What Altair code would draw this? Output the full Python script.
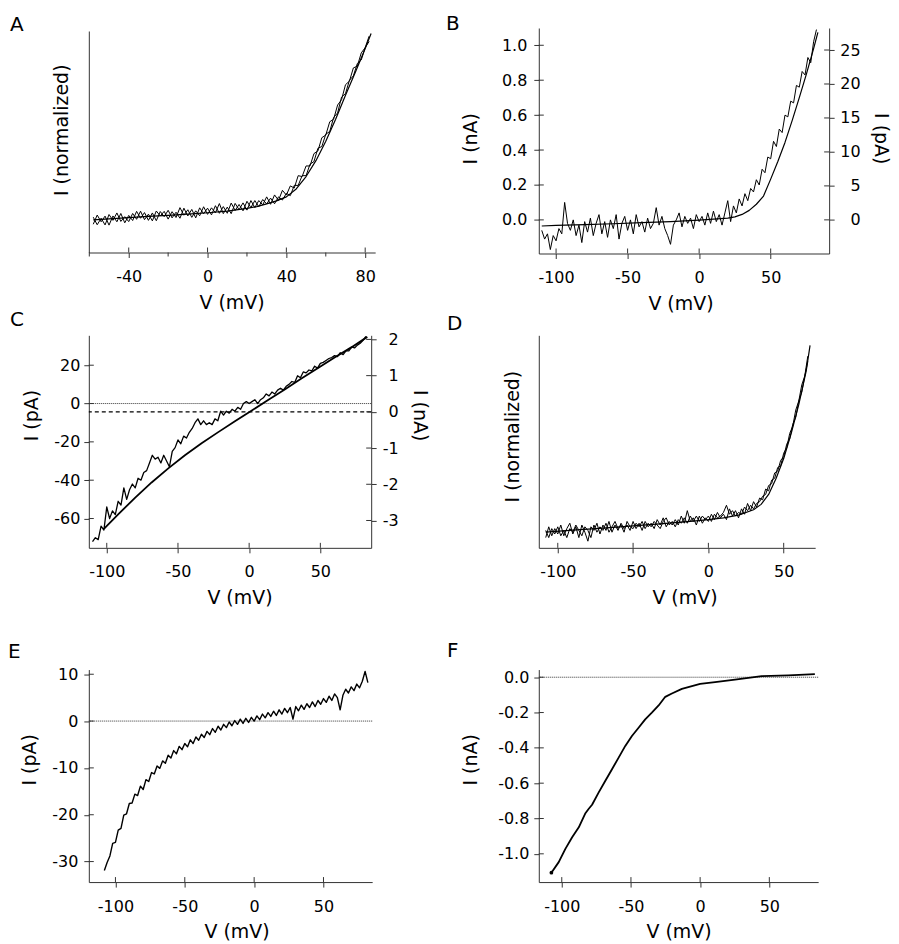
import pandas as pd
import altair as alt

FONT = 'DejaVu Sans'
INK = '#333333'

# ---------------- values ----------------
A_V = [-58, -56, -54, -52, -50, -48, -46, -44, -42, -40,
       -38, -36, -34, -32, -30, -28, -26, -24, -22, -20,
       -18, -16, -14, -12, -10, -8, -6, -4, -2, 0,
       2, 4, 6, 8, 10, 12, 14, 16, 18, 20,
       22, 24, 26, 28, 30, 32, 34, 36, 38, 40,
       42, 44, 46, 48, 50, 52, 54, 56, 58, 60,
       62, 64, 66, 68, 70, 72, 74, 76, 78, 80,
       82]
A_I1 = [-0.02, -0.063, -0.026, -0.064, -0.005, -0.038, 0.004, -0.044, -0.017, -0.045,
        0.001, -0.032, 0.014, -0.034, -0.003, -0.041, 0.015, -0.013, 0.013, -0.031,
        0.011, -0.022, 0.034, -0.009, 0.022, -0.021, 0.016, -0.012, 0.039, -0.004,
        0.033, 0.005, 0.057, 0.0, 0.037, 0.0, 0.058, 0.022, 0.061, 0.02,
        0.074, 0.034, 0.074, 0.05, 0.095, 0.053, 0.106, 0.075, 0.132, 0.105,
        0.157, 0.145, 0.215, 0.21, 0.27, 0.27, 0.34, 0.355, 0.43, 0.445,
        0.52, 0.535, 0.615, 0.645, 0.73, 0.75, 0.825, 0.835, 0.91, 0.94,
        1.005]
A_I2 = [-0.06, -0.008, -0.046, -0.014, -0.065, -0.013, -0.046, 0.001, -0.052, -0.01,
        -0.039, 0.013, -0.026, 0.006, -0.038, 0.004, -0.04, 0.012, -0.017, 0.019,
        -0.024, 0.008, -0.026, 0.031, -0.013, 0.024, -0.024, 0.033, -0.001, 0.031,
        -0.007, 0.045, 0.002, 0.04, 0.002, 0.06, 0.018, 0.052, 0.016, 0.07,
        0.034, 0.074, 0.039, 0.08, 0.055, 0.088, 0.056, 0.095, 0.077, 0.115,
        0.102, 0.16, 0.16, 0.215, 0.215, 0.28, 0.295, 0.37, 0.38, 0.45,
        0.465, 0.545, 0.57, 0.66, 0.68, 0.755, 0.78, 0.85, 0.87, 0.94,
        0.975]
A_FIT_V = [-58, -50, -40, -30, -20, -10, 0, 10, 20, 25, 30, 35, 40, 45, 50, 55, 60, 65, 70, 75, 80, 83]
A_FIT_I = [-0.035, -0.03, -0.022, -0.016, -0.01, -0.003, 0.005, 0.014, 0.03, 0.04, 0.055,
           0.072, 0.095, 0.14, 0.21, 0.3, 0.41, 0.535, 0.67, 0.8, 0.935, 1.02]
A_XTICKS = [-40, 0, 40, 80]
A_XMINOR = [-60, -20, 20, 60]

B_V = [-110, -108, -106, -104, -102, -100, -98, -96, -94, -92,
       -90, -88, -86, -84, -82, -80, -78, -76, -74, -72,
       -70, -68, -66, -64, -62, -60, -58, -56, -54, -52,
       -50, -48, -46, -44, -42, -40, -38, -36, -34, -32,
       -30, -28, -26, -24, -22, -20, -18, -16, -14, -12,
       -10, -8, -6, -4, -2, 0, 2, 4, 6, 8,
       10, 12, 14, 16, 18, 20, 22, 24, 26, 28,
       30, 32, 34, 36, 38, 40, 42, 44, 46, 48,
       50, 52, 54, 56, 58, 60, 62, 64, 66, 68,
       70, 72, 74, 76, 78, 80, 82]
B_I = [-0.06, -0.11, -0.08, -0.17, -0.09, -0.12, -0.05, -0.08, 0.1, -0.02,
       -0.06, 0.0, -0.09, -0.03, -0.13, -0.01, -0.07, 0.01, -0.09, -0.02,
       0.03, -0.08, -0.01, -0.1, 0.0, -0.05, 0.03, -0.11, -0.02, 0.02,
       -0.06, 0.0, -0.08, 0.03, -0.04, -0.01, -0.07, 0.01, -0.05, -0.02,
       0.07, -0.03, 0.02, -0.05, -0.09, -0.14, -0.03, 0.0, 0.04, -0.04,
       0.02, -0.02, 0.01, -0.05, 0.03, -0.01, 0.02, -0.03, 0.04, -0.02,
       0.05, -0.01, 0.03, -0.03, 0.04, 0.11, -0.01, 0.08, 0.04, 0.12,
       0.08, 0.15, 0.11, 0.18, 0.16, 0.23, 0.2, 0.29, 0.27, 0.36,
       0.35, 0.45, 0.42, 0.52, 0.5, 0.6, 0.59, 0.68, 0.67, 0.77,
       0.76, 0.85, 0.83, 0.93, 0.9, 1.02, 1.09]
B_FIT_V = [-110, -100, -80, -60, -40, -20, 0, 10, 20, 25, 30, 35, 40, 45, 50, 55, 60, 65, 70, 75, 80, 83]
B_FIT_PA = [-0.9, -0.82, -0.69, -0.57, -0.41, -0.26, -0.05, 0.1, 0.25, 0.45, 0.8,
            1.4, 2.3, 3.5, 6.0, 8.6, 11.4, 14.6, 18.0, 21.5, 25.2, 27.6]
B_LTICKS = [0.0, 0.2, 0.4, 0.6, 0.8, 1.0]
B_RTICKS = [0, 5, 10, 15, 20, 25]

C_V = B_V
C_I = [-72, -70, -71, -64, -66, -54, -60, -56, -58, -51,
       -53, -44, -50, -45, -42, -44, -39, -40, -36, -35,
       -31, -27, -29, -28, -31, -27, -30, -33, -25, -23,
       -19, -21, -17, -18, -15, -13, -10, -8, -11, -9,
       -11, -10, -11, -8, -9, -4, -6, -4, -5, -3,
       -4, -2, -3, 0, 1, 0, 1, 2, 0, 2,
       3, 5, 4, 6, 5, 7, 8, 7, 9, 10,
       11.5, 11, 14.5, 13.5, 16.5, 16, 17.5, 17, 19.5, 18.5,
       21, 21.5, 22.5, 23.5, 24, 25, 24.5, 26.5, 25.5, 27.5,
       27.5, 29.5, 29, 30.5, 31.5, 33, 35]
C_FIT_V = [-102, -92, -80, -68.5, -56.8, -45.1, -33.4, -21.7, -10, 1.6, 13.3, 25, 36.7, 48.4, 60, 71.7, 83]
C_FIT_NA = [-3.23, -2.83, -2.37, -1.95, -1.56, -1.2, -0.87, -0.56, -0.26, 0.03, 0.33,
            0.62, 0.92, 1.21, 1.5, 1.78, 2.07]
C_LTICKS = [-60, -40, -20, 0, 20]
C_RTICKS = [-3, -2, -1, 0, 1, 2]

D_V = [-108, -106, -104, -102, -100, -98, -96, -94, -92, -90,
       -88, -86, -84, -82, -80, -78, -76, -74, -72, -70,
       -68, -66, -64, -62, -60, -58, -56, -54, -52, -50,
       -48, -46, -44, -42, -40, -38, -36, -34, -32, -30,
       -28, -26, -24, -22, -20, -18, -16, -14, -12, -10,
       -8, -6, -4, -2, 0, 2, 4, 6, 8, 10,
       12, 14, 16, 18, 20, 22, 24, 26, 28, 30,
       32, 34, 36, 38, 40, 42, 44, 46, 48, 50,
       52, 54, 56, 58, 60, 62, 64, 66]
D_I1 = [-0.1, -0.04, -0.09, -0.05, -0.08, -0.03, -0.09, -0.05, -0.02, -0.08,
        -0.04, -0.1, -0.03, -0.07, -0.12, -0.04, -0.06, -0.02, -0.08, -0.03,
        -0.06, -0.01, -0.07, -0.03, -0.06, -0.02, -0.05, -0.03, -0.06, -0.01,
        -0.05, -0.02, -0.06, -0.01, -0.04, -0.02, -0.05, 0.0, -0.03, 0.01,
        -0.04, -0.01, -0.03, 0.0, -0.03, 0.02, -0.02, 0.05, -0.01, 0.01,
        -0.03, 0.02, -0.02, 0.01, -0.01, 0.03, 0.0, 0.04, 0.01, 0.03,
        0.0, 0.06, 0.02, 0.05, 0.01, 0.06, 0.03, 0.09, 0.05, 0.1,
        0.07, 0.12, 0.11, 0.17, 0.16, 0.22, 0.23, 0.29, 0.3, 0.37,
        0.4, 0.48, 0.52, 0.61, 0.66, 0.75, 0.8, 0.91]
D_I2 = [-0.06, -0.1, -0.05, -0.08, -0.04, -0.09, -0.06, -0.1, -0.05, -0.07,
        -0.03, -0.06, -0.09, -0.04, -0.06, -0.1, -0.03, -0.07, -0.04, -0.06,
        -0.02, -0.07, -0.04, -0.01, -0.05, -0.03, -0.07, -0.01, -0.04, -0.05,
        -0.02, -0.04, -0.01, -0.05, -0.02, -0.04, -0.01, -0.03, -0.05, -0.01,
        0.01, -0.03, -0.01, -0.04, 0.0, -0.02, 0.01, -0.02, 0.02, -0.01,
        0.02, -0.01, 0.02, 0.0, 0.02, -0.01, 0.03, 0.01, 0.02, 0.04,
        0.08, 0.03, 0.05, 0.02, 0.04, 0.03, 0.07, 0.05, 0.08, 0.06,
        0.09, 0.1, 0.13, 0.14, 0.19, 0.2, 0.26, 0.27, 0.33, 0.35,
        0.42, 0.45, 0.53, 0.57, 0.66, 0.71, 0.8, 0.88]
D_FIT_V = [-108, -90, -70, -50, -30, -10, 0, 10, 20, 30, 35, 40, 45, 50, 55, 60, 65, 67.5]
D_FIT_I = [-0.07, -0.058, -0.047, -0.035, -0.022, -0.008, 0.0, 0.01, 0.025, 0.055,
           0.085, 0.14, 0.23, 0.34, 0.48, 0.64, 0.83, 0.97]

E_V = [-108, -106, -104, -102, -100, -98, -96, -94, -92, -90,
       -88, -86, -84, -82, -80, -78, -76, -74, -72, -70,
       -68, -66, -64, -62, -60, -58, -56, -54, -52, -50,
       -48, -46, -44, -42, -40, -38, -36, -34, -32, -30,
       -28, -26, -24, -22, -20, -18, -16, -14, -12, -10,
       -8, -6, -4, -2, 0, 2, 4, 6, 8, 10,
       12, 14, 16, 18, 20, 22, 24, 26, 28, 30,
       32, 34, 36, 38, 40, 42, 44, 46, 48, 50,
       52, 54, 56, 58, 60, 62, 64, 66, 68, 70,
       72, 74, 76, 78, 80, 82]
E_I = [-31.9, -30.2, -28.8, -26.1, -25.9, -23.3, -22.9, -20.1, -19.8, -17.6,
       -17.5, -15.6, -15.9, -13.9, -14.6, -12.5, -12.9, -11.0, -11.3, -9.6,
       -10.1, -8.5, -9.0, -7.3, -7.9, -6.3, -7.0, -5.4, -6.1, -4.8,
       -5.5, -4.0, -4.8, -3.4, -4.1, -2.8, -3.5, -2.2, -2.9, -1.6,
       -2.4, -1.1, -1.9, -0.7, -1.4, -0.2, -1.0, 0.1, -0.7, 0.4,
       -0.5, 0.6, -0.3, 0.8, 0.0, 1.1, 0.3, 1.5, 0.7, 1.8,
       1.0, 2.1, 1.2, 2.4, 1.5, 2.7, 1.8, 2.9, 0.4, 3.1,
       2.2, 3.4, 2.5, 3.7, 2.9, 4.1, 3.1, 4.4, 3.6, 4.8,
       4.0, 5.3, 4.4, 5.8, 5.0, 2.4, 5.5, 6.8, 6.0, 7.3,
       6.5, 7.9, 7.1, 8.5, 10.6, 8.2]
E_YTICKS = [-30, -20, -10, 0, 10]

F_V = [-107.5, -102.2, -97.4, -92.5, -87.7, -82.9, -80.5, -78.1, -73.3, -68.5,
       -63.7, -58.9, -54.1, -49.3, -44.5, -39.7, -34.9, -30, -25.2, -20.4,
       -13.2, 0, 10.8, 25.2, 44.5, 63.7, 82.9]
F_I = [-1.107, -1.047, -0.972, -0.906, -0.85, -0.77, -0.745, -0.722, -0.652, -0.586,
       -0.521, -0.455, -0.389, -0.333, -0.286, -0.239, -0.201, -0.16, -0.111, -0.092,
       -0.066, -0.038, -0.028, -0.013, 0.006, 0.011, 0.017]
F_YTICKS = [-1.0, -0.8, -0.6, -0.4, -0.2, 0.0]

V_TICKS = [-100, -50, 0, 50]


# ---------------- helpers ----------------
def frame(v, i):
    return pd.DataFrame({'v': v, 'i': i})


def scale(lo, hi, rng=None):
    if rng is None:
        return alt.Scale(domain=[lo, hi], nice=False, zero=False)
    return alt.Scale(domain=[lo, hi], range=rng, nice=False, zero=False)


def x_axis(ticks, tx):
    return alt.Axis(values=ticks, title='V (mV)', titleX=tx, titleY=41,
                    tickSize=5, labelPadding=11, labelFlush=False)


def y_axis(ticks, fmt, title, tx, ty, pad, orient='left'):
    return alt.Axis(orient=orient, values=ticks, format=fmt, title=title, titleX=tx, titleY=ty,
                    tickSize=5, labelPadding=pad, labelAlign='right')


def bare_axis(title, tx, ty):
    return alt.Axis(title=title, ticks=False, labels=False, titleX=tx, titleY=ty)


class Panel:
    """Shared x/y scales and axes; every layer carries the same axis (a null axis in
    any layer would drop the shared one)."""

    def __init__(self, xs, ys, xax, yax):
        self.xs, self.ys, self.xax, self.yax = xs, ys, xax, yax

    def X(self, field):
        return alt.X(field, scale=self.xs, axis=self.xax)

    def Y(self, field):
        return alt.Y(field, scale=self.ys, axis=self.yax)

    def trace(self, v, i, width=1.0):
        return alt.Chart(frame(v, i)).mark_line(
            color='black', strokeWidth=width, strokeJoin='round'
        ).encode(x=self.X('v:Q'), y=self.Y('i:Q'))

    def x_ticks(self, ticks, h, up=5):
        # inner half of the crossing x ticks (up > 0) or short minor ticks (up < 0)
        return alt.Chart(pd.DataFrame({'t': ticks})).mark_rule(color=INK, strokeWidth=1).encode(
            x=self.X('t:Q'), y=alt.value(h), y2=alt.value(h - up))

    def y_ticks(self, ticks, x0):
        return alt.Chart(pd.DataFrame({'t': ticks})).mark_rule(color=INK, strokeWidth=1).encode(
            y=self.Y('t:Q'), x=alt.value(x0), x2=alt.value(x0 + 5))

    def zero(self, dash, width=1.0, color=INK):
        return alt.Chart(pd.DataFrame({'z': [0]})).mark_rule(
            color=color, strokeDash=dash, strokeWidth=width
        ).encode(y=self.Y('z:Q'))


def letter(text, dx, dy):
    return alt.TitleParams(text=text, anchor='start', frame='group', orient='top',
                           dx=dx, dy=dy, offset=0, baseline='alphabetic')


# ---------------- panels ----------------
pa = Panel(scale(-60.25, 85.06), scale(-0.22, 1.034, [225, 3]),
           x_axis(A_XTICKS, 143), bare_axis('I (normalized)', -17.5, 102))
panel_a = alt.layer(
    pa.trace(A_V, A_I1), pa.trace(A_V, A_I2), pa.trace(A_FIT_V, A_FIT_I, 1.2),
    pa.x_ticks(A_XTICKS, 225), pa.x_ticks(A_XMINOR, 225, -4),
).properties(width=287, height=225, title=letter('A', -79, 23))

xb = scale(-112.07, 90.86)
xb_axis = x_axis(V_TICKS, 142)
pbl = Panel(xb, scale(-0.1926, 1.0989), xb_axis,
            y_axis(B_LTICKS, '.1f', 'I (nA)', -58.5, 110.5, 7))
pbr = Panel(xb, scale(-4.95, 28.24), xb_axis,
            y_axis(B_RTICKS, 'd', 'I (pA)', 41, 110.5, 26, 'right'))
panel_b = alt.layer(
    alt.layer(pbl.trace(B_V, B_I), pbl.x_ticks(V_TICKS, 226), pbl.y_ticks(B_LTICKS, 0)),
    alt.layer(pbr.trace(B_FIT_V, B_FIT_PA, 1.2), pbr.y_ticks(B_RTICKS, 286)),
).resolve_scale(y='independent').properties(width=291, height=226, title=letter('B', -93, 22))

xc = scale(-112.6, 85.7)
xc_axis = x_axis(V_TICKS, 151)
pcl = Panel(xc, scale(-75.3, 35.6), xc_axis,
            y_axis(C_LTICKS, 'd', 'I (pA)', -47.5, 80, 4))
pcr = Panel(xc, scale(-3.755, 2.113), xc_axis,
            y_axis(C_RTICKS, 'd', 'I (nA)', 38.5, 80, 22, 'right'))
panel_c = alt.layer(
    alt.layer(pcl.zero([1, 1]), pcl.trace(C_V, C_I, 1.3),
              pcl.x_ticks(V_TICKS, 213), pcl.y_ticks(C_LTICKS, 0)),
    alt.layer(pcr.zero([4, 3], 1.3, 'black'), pcr.trace(C_FIT_V, C_FIT_NA, 1.8),
              pcr.y_ticks(C_RTICKS, 278)),
).resolve_scale(y='independent').properties(width=283, height=213, title=letter('C', -79, 15))

pd_ = Panel(scale(-112.6, 70.9), scale(-0.157, 1.026),
            x_axis(V_TICKS, 146), bare_axis('I (normalized)', -16.5, 101))
panel_d = alt.layer(
    pd_.trace(D_V, D_I1), pd_.trace(D_V, D_I2), pd_.trace(D_FIT_V, D_FIT_I, 1.2),
    pd_.x_ticks(V_TICKS, 213),
).properties(width=277, height=213, title=letter('D', -92, 15))

pe = Panel(scale(-119.2, 85.1), scale(-34.38, 11.0, [253, 40]),
           x_axis(V_TICKS, 148), y_axis(E_YTICKS, 'd', 'I (pA)', -49.5, 130, 6))
panel_e = alt.layer(
    pe.zero([1, 1]), pe.trace(E_V, E_I, 1.4),
    pe.x_ticks(V_TICKS, 253), pe.y_ticks(E_YTICKS, 0),
).properties(width=284, height=253, title=letter('E', -81, 48))

pf = Panel(scale(-116.6, 85.3), scale(-1.16, 0.0434, [253, 40]),
           x_axis(V_TICKS, 140), y_axis(F_YTICKS, '.1f', 'I (nA)', -58.5, 130, 5))
panel_f = alt.layer(
    pf.zero([1, 1]), pf.trace(F_V, F_I, 1.8),
    alt.Chart(frame(F_V[:1], F_I[:1])).mark_circle(size=14, color='black', opacity=1).encode(
        x=pf.X('v:Q'), y=pf.Y('i:Q')),
    pf.x_ticks(V_TICKS, 253), pf.y_ticks(F_YTICKS, 0),
).properties(width=280, height=253, title=letter('F', -92, 47))

chart = alt.concat(
    panel_a, panel_b, panel_c, panel_d, panel_e, panel_f,
    columns=2, spacing={'row': 82, 'column': 164}, bounds='flush',
).properties(
    padding={'left': 0, 'top': 5, 'right': 2, 'bottom': 0}
).configure(
    locale={'number': {'decimal': '.', 'thousands': ',', 'grouping': [3],
                       'currency': ['$', ''], 'minus': '-'}}
).configure_view(
    stroke=None
).configure_axis(
    grid=False, domainColor=INK, tickColor=INK, domainWidth=1, tickWidth=1,
    labelFont=FONT, labelFontSize=16, labelColor='black',
    titleFont=FONT, titleFontSize=19, titleFontWeight='normal', titleColor='black',
).configure_title(
    font=FONT, fontSize=20, fontWeight='normal', color='black'
)

chart.save("out.html", embed_options={"renderer": "svg", "actions": False})
